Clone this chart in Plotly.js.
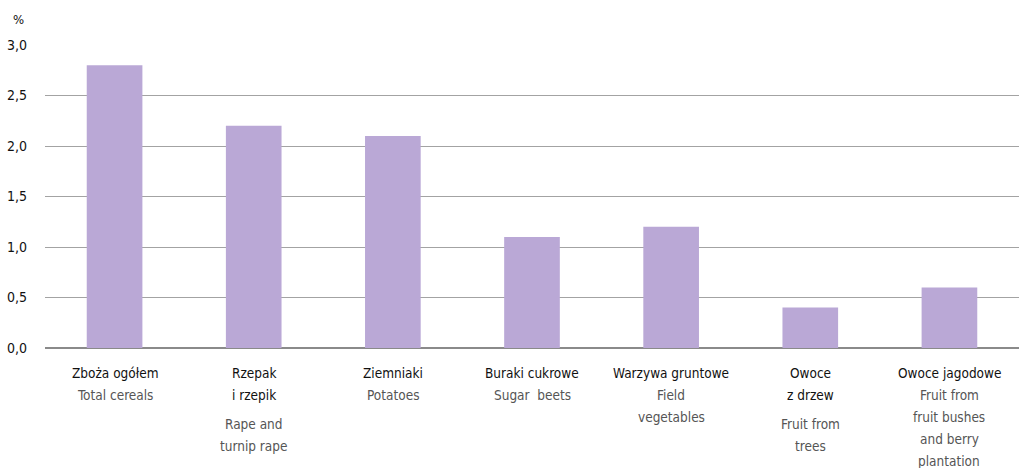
<!DOCTYPE html>
<html>
<head>
<meta charset="utf-8">
<script src="https://cdn.plot.ly/plotly-3.0.1.min.js"></script>
<style>html,body{margin:0;padding:0;background:#fff;}#chart{width:1019px;height:468px;}</style>
</head>
<body>
<div id="chart"></div>
<script>
// Data
const categoriesPL = ["Zboża ogółem", "Rzepak|i rzepik", "Ziemniaki", "Buraki cukrowe", "Warzywa gruntowe", "Owoce|z drzew", "Owoce jagodowe"];
const categoriesEN = ["Total cereals", "Rape and|turnip rape", "Potatoes", "Sugar  beets", "Field|vegetables", "Fruit from|trees", "Fruit from|fruit bushes|and berry|plantation"];
const values = [2.8, 2.2, 2.1, 1.1, 1.2, 0.4, 0.6];
const yTickVals = [0, 0.5, 1.0, 1.5, 2.0, 2.5, 3.0];
const unitLabel = "%";

const FONT = '"DejaVu Sans Condensed", "Liberation Sans Narrow", Arial, sans-serif';
const xKeys = categoriesPL.map((c, i) => c.replace('|', ' '));

const plotBottom = 348; // px from top
const plCenter0 = 373, lineStep = 22;
const enStartByPl = {1: 395, 2: 424};
const annotations = [];
categoriesPL.forEach((pl, i) => {
  const plLines = pl.split('|');
  plLines.forEach((t, k) => {
    const cy = plCenter0 + lineStep * k;
    annotations.push({x: xKeys[i], xref: 'x', y: 0, yref: 'paper', yanchor: 'middle', xanchor: 'center',
      yshift: -(cy - plotBottom), text: t, showarrow: false, font: {family: FONT, size: 13.5, color: '#111'}});
  });
  const enLines = categoriesEN[i].split('|');
  const enStart = enStartByPl[plLines.length];
  enLines.forEach((t, k) => {
    const cy = enStart + lineStep * k;
    annotations.push({x: xKeys[i], xref: 'x', y: 0, yref: 'paper', yanchor: 'middle', xanchor: 'center',
      yshift: -(cy - plotBottom), text: t, showarrow: false, font: {family: FONT, size: 13.5, color: '#555'}});
  });
});
annotations.push({x: 0, xref: 'paper', y: 1, yref: 'paper', xanchor: 'center', yanchor: 'middle',
  xshift: -27, yshift: 26, text: unitLabel, showarrow: false, font: {family: FONT, size: 13, color: '#111'}});

const trace = {
  type: 'bar', x: xKeys, y: values, width: 0.4,
  marker: {color: '#baa8d6', line: {width: 0}},
  hoverinfo: 'x+y'
};

const layout = {
  width: 1019, height: 468,
  margin: {l: 45, r: 0, t: 45, b: 120, pad: 0},
  paper_bgcolor: '#fff', plot_bgcolor: '#fff',
  separators: ', ',
  showlegend: false,
  font: {family: FONT, size: 14, color: '#111'},
  xaxis: {type: 'category', range: [-0.5, 6.5], showticklabels: false, showgrid: false, zeroline: false, showline: false, ticks: ''},
  yaxis: {range: [0, 3], tickvals: yTickVals, tickformat: '.1f', showgrid: true, gridcolor: '#a3a3a3', gridwidth: 1,
    zeroline: true, zerolinecolor: '#8a8a8a', zerolinewidth: 1.2, showline: false, ticks: '',
    ticklabelstandoff: 17, tickfont: {family: FONT, size: 14, color: '#111'}},
  annotations: annotations
};

Plotly.newPlot('chart', [trace], layout, {displayModeBar: false, staticPlot: true});
</script>
</body>
</html>
